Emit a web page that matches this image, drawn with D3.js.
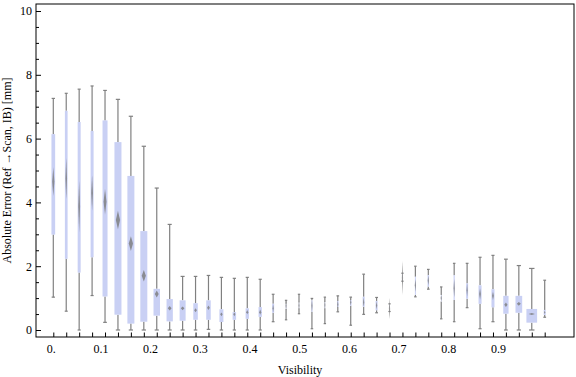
<!DOCTYPE html>
<html>
<head>
<meta charset="utf-8">
<script src="https://cdn.jsdelivr.net/npm/d3@7"></script>
<style>
  body { margin: 0; background: #fff; }
  text { font-family: "Liberation Serif", "Times New Roman", serif; }
</style>
</head>
<body>
<div id="chart"></div>
<script>
// one box per visibility bin (39 bins)
var whiskerLow  = [1.03,0.59,0.00,1.08,0.24,0.00,0.00,0.00,0.00,0.00,0.00,0.00,0.02,0.00,0.00,0.00,0.00,0.26,0.32,0.51,0.04,0.20,0.57,0.15,0.49,0.54,0.58,1.53,1.04,1.28,0.35,0.26,0.70,0.04,0.26,0.00,0.00,0.00,0.40];
var quart1      = [2.99,2.23,1.80,2.28,1.05,0.48,0.20,0.26,0.45,0.27,0.29,0.32,0.32,0.25,0.32,0.35,0.41,0.54,0.66,0.68,0.57,0.68,0.72,0.76,0.73,0.62,0.58,1.53,1.10,1.36,0.89,0.94,0.98,0.82,0.71,0.51,0.54,0.23,0.47];
var medians     = [4.65,4.75,3.87,4.30,4.02,3.45,2.71,1.70,1.13,0.68,0.68,0.62,0.70,0.49,0.49,0.56,0.56,0.68,0.76,0.77,0.76,0.78,0.80,0.87,0.87,0.77,0.67,1.63,1.40,1.55,1.00,1.31,1.25,1.13,1.07,0.79,0.82,0.50,0.55];
var quart3      = [6.14,6.87,6.52,6.24,6.57,5.89,4.83,3.10,1.29,0.97,0.93,0.84,0.93,0.65,0.56,0.68,0.72,0.82,0.82,0.86,0.93,0.88,0.91,0.94,1.04,0.91,0.82,1.78,1.67,1.72,1.10,1.72,1.46,1.40,1.28,1.07,1.07,0.66,0.63];
var whiskerHigh = [7.26,7.42,7.55,7.65,7.51,7.23,6.70,5.76,4.45,3.31,1.68,1.68,1.71,1.65,1.62,1.65,1.59,1.12,0.93,1.12,0.99,1.03,1.07,1.03,1.75,1.02,0.82,1.78,2.00,1.90,1.35,2.09,2.09,2.28,2.34,2.22,2.02,1.93,1.56];
// half height of the median notch
var notchHalf   = [0.45,0.65,0.80,0.55,0.40,0.29,0.23,0.18,0.11,0.07,0.06,0.06,0.07,0.06,0.06,0.07,0.08,0.12,0.15,0.15,0.20,0.15,0.12,0.10,0.15,0.12,0.33,0.53,0.20,0.15,0.10,0.30,0.20,0.17,0.13,0.07,0.06,0.03,0.05];
// relative sample size of each bin (drives the box width)
var sampleSize  = [37,27,30,30,50,70,70,70,65,63,60,45,45,40,35,33,33,20,6,5,12,6,15,15,20,20,3,3,10,15,7,12,20,30,30,53,67,107,20];

var visTicks = [0, 0.1, 0.2, 0.3, 0.4, 0.5, 0.6, 0.7, 0.8, 0.9];
var errTicks = [0, 2, 4, 6, 8, 10];

var boxes = medians.map(function(m, i) {
  return {i: i, lo: whiskerLow[i], q1: quart1[i], med: m, q3: quart3[i], hi: whiskerHigh[i],
          notch: notchHalf[i], n: sampleSize[i]};
});

var width = 576, height = 377;
var frame = {left: 36, right: 574, top: 4, bottom: 337};

var svg = d3.select('#chart')
  .append('svg')
    .attr('width', width)
    .attr('height', height);

// scales
var xBin = d3.scalePoint()
  .domain(d3.range(boxes.length))
  .range([53.3, 544.7]);

var xVis = d3.scaleLinear()
  .domain([0, 0.9])
  .range([50.7, 498]);

var y = d3.scaleLinear()
  .domain([0, 10])
  .range([330, 11]);

var boxW = d3.scaleLinear()
  .domain([0, 100])
  .range([0, 10]);

// blur for the notch diamonds
var defs = svg.append('defs');
defs.append('filter')
    .attr('id', 'soft')
    .attr('x', '-100%').attr('y', '-20%')
    .attr('width', '300%').attr('height', '140%')
  .append('feGaussianBlur')
    .attr('stdDeviation', 0.5);

var g = svg.append('g');

var box = g.selectAll('g.box')
  .data(boxes)
  .enter()
  .append('g')
    .attr('class', 'box')
    .attr('transform', function(d) { return 'translate(' + xBin(d.i) + ',0)'; });

// whiskers
box.append('line')
    .attr('x1', 0).attr('x2', 0)
    .attr('y1', function(d) { return y(d.hi); })
    .attr('y2', function(d) { return y(d.q3); })
    .attr('stroke', '#808080')
    .attr('stroke-width', 1.2);
box.append('line')
    .attr('x1', 0).attr('x2', 0)
    .attr('y1', function(d) { return y(d.q1); })
    .attr('y2', function(d) { return y(d.lo); })
    .attr('stroke', '#808080')
    .attr('stroke-width', 1.2);

// caps
function capHalf(d) { return 1.1 + boxW(d.n) * 0.15; }
box.selectAll('line.cap')
  .data(function(d) { return [{v: d.hi, d: d}, {v: d.lo, d: d}]; })
  .enter()
  .append('line')
    .attr('class', 'cap')
    .attr('x1', function(c) { return -capHalf(c.d); })
    .attr('x2', function(c) { return capHalf(c.d); })
    .attr('y1', function(c) { return y(c.v); })
    .attr('y2', function(c) { return y(c.v); })
    .attr('stroke', '#808080')
    .attr('stroke-width', 1.2);

// interquartile box
box.append('rect')
    .attr('x', function(d) { return -boxW(d.n) / 2; })
    .attr('y', function(d) { return y(d.q3); })
    .attr('width', function(d) { return boxW(d.n); })
    .attr('height', function(d) { return Math.max(0.5, y(d.q1) - y(d.q3)); })
    .attr('fill', '#c9d0f4');

// median notch as a diamond
box.append('path')
    .attr('d', function(d) {
      var w = Math.max(boxW(d.n) * 0.3, 0.6);
      var t = y(d.med + d.notch), m = y(d.med), b = y(d.med - d.notch);
      return 'M0,' + t + 'L' + w + ',' + m + 'L0,' + b + 'L' + (-w) + ',' + m + 'Z';
    })
    .attr('fill', '#7a7a7a')
    .attr('fill-opacity', 0.8)
    .attr('filter', 'url(#soft)');

// frame
svg.append('rect')
    .attr('x', frame.left)
    .attr('y', frame.top)
    .attr('width', frame.right - frame.left)
    .attr('height', frame.bottom - frame.top)
    .attr('fill', 'none')
    .attr('stroke', '#000')
    .attr('stroke-width', 1);

// left axis: major + minor ticks
var yMinor = d3.range(0, 10.01, 0.5).filter(function(v) { return v % 2 !== 0; });
svg.append('g')
    .attr('transform', 'translate(' + frame.left + ',0)')
    .call(d3.axisLeft(y).tickValues(yMinor).tickSize(-3).tickFormat(''))
    .call(function(a) { a.select('.domain').remove(); });
svg.append('g')
    .attr('transform', 'translate(' + frame.left + ',0)')
    .call(d3.axisLeft(y).tickValues(errTicks).tickSize(-5).tickPadding(4).tickFormat(d3.format('d')))
    .call(function(a) {
      a.select('.domain').remove();
      a.selectAll('text').attr('font-size', '12px').attr('fill', '#000')
        .attr('font-family', '"Liberation Serif", serif');
    });

// bottom axis: one tick per bin, labels on visibility scale
svg.append('g')
    .attr('transform', 'translate(0,' + frame.bottom + ')')
    .call(d3.axisBottom(xBin).tickSize(-4.5).tickFormat(''))
    .call(function(a) { a.select('.domain').remove(); });
svg.append('g')
    .attr('transform', 'translate(0,' + frame.bottom + ')')
    .call(d3.axisBottom(xVis).tickValues(visTicks).tickSize(0).tickPadding(7.5)
      .tickFormat(function(v) { return v === 0 ? '0.' : d3.format('.1f')(v); }))
    .call(function(a) {
      a.select('.domain').remove();
      a.selectAll('text').attr('font-size', '12px').attr('fill', '#000')
        .attr('font-family', '"Liberation Serif", serif');
    });

// axis titles
svg.append('text')
    .attr('x', 300)
    .attr('y', 374)
    .attr('text-anchor', 'middle')
    .attr('font-size', '12px')
    .text('Visibility');

svg.append('text')
    .attr('transform', 'translate(11,170.5) rotate(-90)')
    .attr('text-anchor', 'middle')
    .attr('font-size', '12px')
    .text('Absolute Error (Ref \u2192Scan, IB) [mm]');
</script>
</body>
</html>
